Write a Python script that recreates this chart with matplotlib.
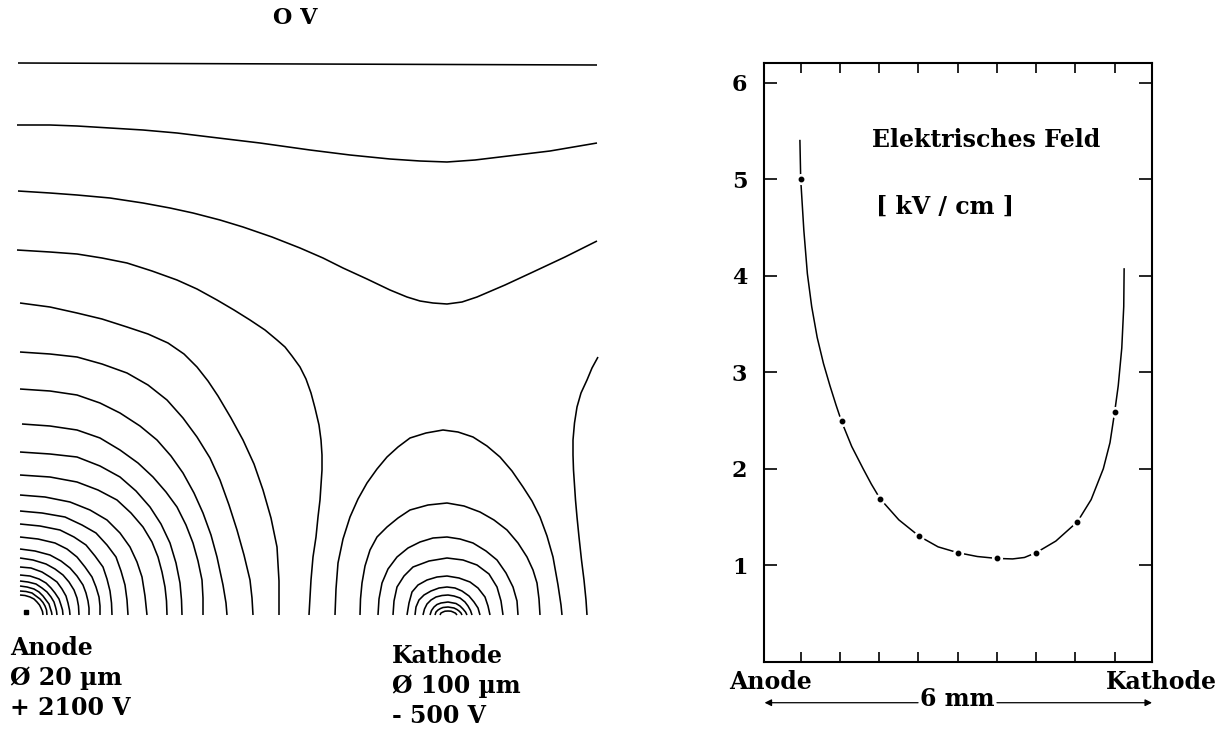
"""
Drift cell of a wire chamber: equipotential lines (left) and the electric
field along the line anode -> cathode (right). Values read off the scan.
"""
import matplotlib
matplotlib.use("Agg")
import matplotlib.pyplot as plt

plt.rcParams["font.family"] = ["DejaVu Serif", "DejaVu Sans"]
plt.rcParams["font.weight"] = "bold"

# --------------------------------------------------------------------------- #
# left panel: digitised equipotentials, drawing units, origin at the anode wire
ground_plane = [(-2, 552), (577, 550)]

upper_1 = [(-3, 490), (30, 490), (57, 489), (90, 487), (123, 485), (157, 482),
           (190, 478), (240, 472), (290, 465), (330, 460), (370, 456), (400, 454),
           (427, 453), (455, 455), (480, 458), (530, 464), (577, 472)]
upper_2 = [(-2, 424), (30, 422), (57, 420), (90, 417), (123, 412), (150, 407),
           (173, 402), (200, 395), (223, 388), (252, 378), (280, 367), (303, 357),
           (323, 347), (347, 336), (370, 325), (387, 318), (400, 314), (413, 312),
           (427, 311), (442, 313), (457, 318), (485, 330), (513, 343), (545, 358),
           (577, 374)]
upper_3 = [(-3, 365), (30, 363), (57, 361), (82, 357), (107, 352), (132, 344),
           (157, 335), (177, 326), (197, 315), (214, 305), (230, 295), (245, 285),
           (257, 275), (265, 268), (272, 259), (280, 248), (286, 236), (291, 222),
           (295, 207), (299, 190), (301, 175), (302, 160), (302, 145), (301, 130),
           (300, 115), (298, 98), (296, 78), (293, 58), (291, 35), (289, 0)]
right_line = [(578, 258), (572, 247), (567, 235), (561, 222), (557, 208),
              (554.5, 192), (553, 175), (553, 160), (553.5, 145), (554.5, 130),
              (555.5, 115), (557, 98), (559, 78), (561.5, 55), (564, 35),
              (566, 15), (567, 0)]

anode_lines = [
    [(0, 312), (30, 308), (57, 302), (82, 296), (107, 288), (128, 281), (148, 272),
     (164, 261), (177, 248), (188, 234), (198, 219), (211, 197), (223, 175),
     (234, 151), (243, 125), (251, 97), (257, 68), (259, 34), (259, 0)],
    [(0, 263), (30, 261), (57, 258), (82, 251), (107, 242), (128, 230), (147, 215),
     (163, 197), (177, 178), (190, 157), (200, 135), (209, 110), (217, 85),
     (224, 60), (230, 35), (232, 17), (233, 0)],
    [(0, 226), (30, 224), (57, 220), (80, 212), (100, 202), (120, 189), (137, 175),
     (151, 159), (163, 142), (174, 122), (183, 102), (191, 80), (197, 58),
     (203, 30), (206, 12), (207, 0)],
    [(2, 191), (30, 189), (57, 185), (80, 177), (100, 165), (118, 152), (133, 138),
     (146, 123), (157, 108), (166, 90), (173, 72), (178, 54), (182, 35),
     (183, 17), (183, 0)],
    [(0, 163), (30, 161), (57, 158), (80, 149), (100, 138), (116, 124), (130, 108),
     (141, 91), (150, 72), (156, 52), (160, 32), (161.5, 15), (162, 0)],
    [(0, 140), (30, 138), (57, 133), (78, 125), (97, 115), (111, 102), (123, 88),
     (132, 73), (138, 58), (142, 43), (145, 28), (146.5, 14), (147, 0)],
    [(0, 120), (25, 118), (50, 113), (70, 105), (87, 95), (100, 82), (110, 68),
     (117, 53), (122, 38), (125, 19), (127, 0)],
    [(0, 104), (22, 102), (45, 98), (62, 90), (76, 82), (87, 70), (96, 58),
     (101, 44), (105, 30), (107, 15), (108, 0)],
    [(0, 91), (20, 89), (40, 85), (54, 78), (66, 70), (75, 59), (83, 48),
     (87, 36), (90, 24), (91.5, 12), (92, 0)],
    [(0, 78), (18, 76), (35, 72), (47, 66), (57, 58), (65, 48), (72, 38),
     (76, 28), (79, 18), (80, 9), (80, 0)],
    [(0, 66), (15, 64), (30, 60), (41, 54), (50, 47), (57, 39), (63, 30),
     (66, 22), (68, 14), (69, 7), (69, 0)],
    [(0, 57), (13, 55), (26, 51), (35, 46), (43, 40), (49, 33), (54, 25),
     (57, 17), (58.5, 9), (59, 0)],
    [(0, 48), (11, 47), (22, 43), (30, 38), (37, 33), (42, 26), (46, 19),
     (48, 12), (49.5, 5), (50, 0)],
    [(0, 40), (10, 39), (19, 36), (26, 32), (31, 27), (35, 22), (39, 16),
     (41, 10), (42.5, 5), (43, 0)],
    [(0, 34), (8, 33), (16, 31), (22, 27), (27, 23), (31, 18), (34, 13),
     (35.5, 8), (36.5, 4), (37, 0)],
    [(0, 29), (7, 28), (14, 26), (19, 23), (23, 19), (26, 15), (29, 11),
     (30.5, 6), (31.5, 3), (32, 0)],
    [(0, 24), (6, 23.5), (12, 22), (16, 19), (20, 16), (23, 12.5), (25, 9),
     (26.5, 5), (27, 0)],
    [(0, 20), (5, 19.5), (10, 18), (14, 16), (17, 13), (19.5, 10), (21, 7),
     (22.5, 3.5), (23, 0)],
]

cathode_lines = [
    [(315, 0), (316, 26), (318, 52), (323, 76), (330, 98), (338, 116), (347, 132),
     (357, 146), (367, 158), (378, 168), (390, 177), (406, 182), (423, 185),
     (438, 183), (453, 178), (467, 169), (480, 158), (492, 144), (503, 128),
     (512, 114), (520, 98), (527, 79), (533, 58), (538, 30), (541, 10), (542, 0)],
    [(340, 0), (340.5, 16), (342, 32), (345, 49), (350, 65), (357, 78), (367, 88),
     (378, 97), (390, 105), (408, 110), (427, 112), (444, 109), (460, 103),
     (474, 95), (487, 85), (498, 72), (507, 58), (513, 45), (517, 32), (519, 16),
     (520, 0)],
    [(358, 0), (359, 16), (362, 32), (368, 46), (377, 58), (388, 67), (400, 73),
     (413, 77), (427, 78), (440, 76), (453, 72), (466, 64), (477, 55), (486, 42),
     (493, 28), (497, 14), (498, 0)],
    [(373, 0), (374, 14), (377, 28), (384, 39), (393, 48), (409, 54), (427, 57),
     (443, 55), (457, 50), (469, 41), (477, 28), (481, 14), (483, 0)],
    [(387, 0), (389, 12), (392, 23), (398, 30), (407, 35), (417, 38), (427, 39),
     (439, 37), (450, 33), (458, 27), (465, 18), (468, 9), (470, 0)],
    [(395, 0), (396, 8), (399, 15), (404, 20), (411, 24), (419, 27), (427, 28),
     (435, 27), (442, 24), (449, 19), (454, 13), (458, 7), (460, 0)],
    [(403, 0), (404.5, 6), (407, 11), (411, 15), (416, 18), (422, 19.5), (428, 20),
     (434, 19), (440, 17), (445, 13), (448, 9), (450.5, 4.5), (452, 0)],
    [(410, 0), (411.5, 4.5), (414, 8), (417, 10.5), (421, 12), (428, 13),
     (436, 11.5), (440, 9), (443, 6), (445.5, 3), (447, 0)],
    [(415, 0), (416, 3), (418, 5), (420.5, 6.5), (423, 7.5), (428, 8), (434, 7),
     (437, 5.5), (439, 4), (441, 2), (442, 0)],
    [(420, 0), (421, 2), (423, 3), (425, 3.8), (428, 4), (431, 3.8), (433, 3),
     (435.5, 1.8), (437, 0)],
]

anode_wire = (6, 3)
plane_label = "O V"
anode_label = ["Anode", "\u00d8 20 \u00b5m", "+ 2100 V"]
cathode_label = ["Kathode", "\u00d8 100 \u00b5m", "- 500 V"]

# right panel: field strength [kV/cm] vs position (tick units, anode at 1, cathode at 9)
curve_x = [0.98, 1.0, 1.08, 1.17, 1.28, 1.42, 1.58, 1.745, 1.9, 2.04, 2.3, 2.59,
           2.8, 3.02, 3.5, 4.02, 4.5, 5.0, 5.5, 6.0, 6.4, 6.7, 7.0, 7.5, 8.05,
           8.4, 8.71, 8.88, 9.0, 9.09, 9.18, 9.23, 9.24]
curve_y = [5.40, 5.0, 4.47, 4.02, 3.68, 3.36, 3.09, 2.86, 2.66, 2.49, 2.23, 2.0,
           1.84, 1.69, 1.47, 1.30, 1.19, 1.13, 1.09, 1.07, 1.065, 1.08, 1.13,
           1.25, 1.45, 1.68, 2.0, 2.27, 2.59, 2.86, 3.25, 3.68, 4.07]
dot_x = [1.0, 2.04, 3.02, 4.02, 5.0, 6.0, 7.0, 8.05, 9.0]
dot_y = [5.0, 2.49, 1.69, 1.30, 1.13, 1.07, 1.13, 1.45, 2.59]
y_ticks = [1, 2, 3, 4, 5, 6]
x_ticks = [1, 2, 3, 4, 5, 6, 7, 8, 9]

# --------------------------------------------------------------------------- #
fig = plt.figure(figsize=(12.28, 7.31), dpi=100)

ax = fig.add_axes([0, 0, 620 / 1228, 1])
ax.set_xlim(-20, 600)
ax.set_ylim(-116, 615)
ax.axis("off")

lw = 1.15
for line in [ground_plane, upper_1, upper_2, upper_3, right_line] + anode_lines + cathode_lines:
    xs, ys = zip(*line)
    ax.plot(xs, ys, color="black", lw=lw, solid_capstyle="butt", solid_joinstyle="round")
ax.plot(*anode_wire, "s", ms=2.2, color="black")

fs = 17
ax.text(275, 597, plane_label, ha="center", va="center", fontsize=16)
for i, s in enumerate(anode_label):
    ax.text(-10, -33 - 30 * i, s, ha="left", va="center", fontsize=fs)
for i, s in enumerate(cathode_label):
    ax.text(372, -41 - 30 * i, s, ha="left", va="center", fontsize=fs)

# right panel
ax2 = fig.add_axes([764 / 1228, 69.3 / 731, 388 / 1228, 599 / 731])
ax2.plot(curve_x, curve_y, color="black", lw=1.1, zorder=2)
ax2.plot(dot_x, dot_y, "o", ms=7, color="white", zorder=3)
ax2.plot(dot_x, dot_y, "o", ms=3.2, color="black", zorder=4)
ax2.set_xlim(0.065, 9.95)
ax2.set_ylim(0, 6.207)
ax2.set_xticks(x_ticks)
ax2.set_xticklabels([])
ax2.set_yticks(y_ticks)
ax2.set_yticklabels([str(t) for t in y_ticks])
ax2.tick_params(axis="y", direction="in", length=9.5, width=1.2, left=True,
                right=True, labelsize=16, pad=12)
ax2.tick_params(axis="x", direction="in", length=7, width=1.2, top=True,
                bottom=True, labelbottom=False)
for sp in ax2.spines.values():
    sp.set_linewidth(1.5)

ax2.text(2.81, 5.41, "Elektrisches Feld", ha="left", va="center", fontsize=fs)
ax2.text(2.93, 4.71, "[ kV / cm ]", ha="left", va="center", fontsize=fs)
ax2.text(0.23, -0.21, "Anode", ha="center", va="center", fontsize=fs, clip_on=False)
ax2.text(10.2, -0.21, "Kathode", ha="center", va="center", fontsize=fs, clip_on=False)
ax2.text(4.98, -0.39, "6 mm", ha="center", va="center", fontsize=fs, clip_on=False)
ax2.annotate("", xy=(0.08, -0.425), xytext=(3.99, -0.425), xycoords="data",
             arrowprops=dict(arrowstyle="-|>", lw=0.9, color="black",
                             mutation_scale=10, shrinkA=0, shrinkB=0),
             annotation_clip=False)
ax2.annotate("", xy=(9.95, -0.425), xytext=(6.0, -0.425), xycoords="data",
             arrowprops=dict(arrowstyle="-|>", lw=0.9, color="black",
                             mutation_scale=10, shrinkA=0, shrinkB=0),
             annotation_clip=False)

fig.savefig("out.png", dpi=100)
